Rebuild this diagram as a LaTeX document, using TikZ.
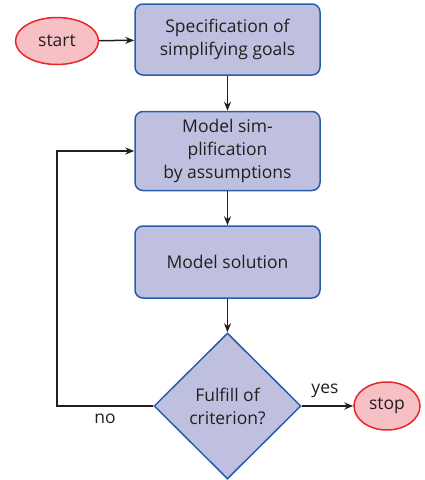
\documentclass[tikz,border=0pt]{standalone}
\usepackage{fontspec}
\setmainfont{Open Sans}
\usetikzlibrary{shapes.geometric,arrows.meta}
\definecolor{boxfill}{HTML}{BFC0E0}
\definecolor{boxline}{HTML}{2A5DA8}
\definecolor{ovalfill}{HTML}{F6C0C4}
\definecolor{ovalline}{HTML}{E8262C}
\definecolor{ink}{HTML}{231F20}
\begin{document}
\begin{tikzpicture}[x=1pt,y=-1pt,
  every node/.style={text=ink,font=\fontsize{17.5}{23}\selectfont},
  stepbox/.style={draw=boxline,fill=boxfill,line width=1.5pt,rounded corners=8pt,
    minimum width=185pt,align=center,inner sep=0pt},
  terminal/.style={ellipse,draw=ovalline,fill=ovalfill,line width=1.5pt,inner sep=0pt},
  decision/.style={diamond,draw=boxline,fill=boxfill,line width=1.5pt,
    minimum width=147pt,minimum height=146pt,inner sep=0pt,align=center},
  flow/.style={draw=ink,line width=1.5pt,-{Stealth[length=9pt,width=7pt]}}]
\useasboundingbox (0,0) rectangle (425,480);
\node[terminal,minimum width=83pt,minimum height=47pt] (start) at (57,41) {start};
\node[stepbox,minimum height=71pt] (goals) at (227.5,39.5) {Specification of\\simplifying goals};
\node[stepbox,minimum height=79pt] (simp) at (227.5,151) {Model sim-\\plification\\by assumptions};
\node[stepbox,minimum height=72pt] (solve) at (227.5,262) {Model solution};
\node[decision] (crit) at (227.5,406) {Fulfill of\\criterion?};
\node[terminal,minimum width=66pt,minimum height=48pt] (stop) at (387,406) {stop};
\coordinate (back) at (57,406);
\draw[flow] (start) -- (goals);
\draw[flow] (goals) -- (simp);
\draw[flow] (simp) -- (solve);
\draw[flow] (solve) -- (crit);
\draw[flow] (crit) -- node[above=4pt,pos=0.45] {yes} (stop);
\draw[flow] (crit.west) -- node[below=4pt,pos=0.5] {no} (back) |- (simp.west);
\end{tikzpicture}
\end{document}
